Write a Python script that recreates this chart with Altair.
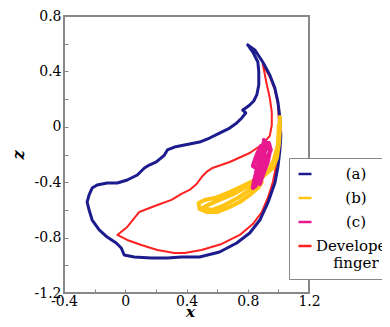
import altair as alt
import pandas as pd

series_names = ["(a)", "(b)", "(c)", "Developed finger"]
series_colors = ["#1c1c8e", "#ffc414", "#e8198f", "#ff2020"]

blue_x = [0.800, 0.833, 0.866, 0.872, 0.872, 0.859, 0.839, 0.813, 0.787, 0.767, 0.787, 0.761,
          0.728, 0.682, 0.616, 0.551, 0.485, 0.387, 0.321, 0.275, 0.256, 0.203, 0.157, 0.125,
          0.079, 0.013, -0.052, -0.118, -0.184, -0.216, -0.236, -0.249, -0.236, -0.216, -0.170,
          -0.118, -0.059, -0.026, -0.007, 0.059, 0.170, 0.275, 0.367, 0.485, 0.616, 0.728,
          0.813, 0.879, 0.931, 0.977, 0.997, 1.010, 1.016, 1.010, 0.997, 0.977, 0.944, 0.898,
          0.846, 0.800]
blue_z = [0.591, 0.540, 0.468, 0.396, 0.302, 0.230, 0.186, 0.157, 0.136, 0.121, 0.100, 0.064,
          0.027, -0.009, -0.045, -0.081, -0.110, -0.131, -0.146, -0.167, -0.204, -0.254, -0.276,
          -0.297, -0.348, -0.384, -0.406, -0.406, -0.420, -0.442, -0.492, -0.543, -0.601, -0.673,
          -0.745, -0.796, -0.839, -0.875, -0.926, -0.940, -0.947, -0.947, -0.940, -0.940, -0.904,
          -0.839, -0.767, -0.673, -0.550, -0.406, -0.290, -0.167, -0.059, 0.064, 0.179, 0.280,
          0.374, 0.468, 0.555, 0.591]

red_x = [0.898, 0.944, 0.977, 0.997, 1.003, 1.003, 0.997, 0.984, 0.964, 0.931, 0.892, 0.833,
         0.748, 0.630, 0.498, 0.387, 0.321, 0.210, 0.105, 0.013, -0.052, 0.013, 0.092, 0.125,
         0.210, 0.302, 0.367, 0.420, 0.466, 0.505, 0.531, 0.570, 0.682, 0.813, 0.898, 0.944,
         0.957, 0.957, 0.944, 0.925, 0.898]
red_z = [0.453, 0.360, 0.266, 0.165, 0.049, -0.059, -0.167, -0.290, -0.399, -0.514, -0.615,
         -0.702, -0.781, -0.846, -0.890, -0.911, -0.911, -0.890, -0.853, -0.817, -0.781, -0.723,
         -0.615, -0.601, -0.565, -0.528, -0.485, -0.456, -0.413, -0.355, -0.326, -0.297, -0.254,
         -0.189, -0.124, -0.066, 0.013, 0.107, 0.208, 0.302, 0.453]

yel_x = [1.010, 1.010, 1.003, 0.990, 0.964, 0.911, 0.846, 0.767, 0.682, 0.584, 0.518, 0.479,
         0.485, 0.531, 0.603, 0.669, 0.748, 0.813, 0.866, 0.892, 0.852, 0.780, 0.695, 0.616,
         0.538, 0.505, 0.564, 0.649, 0.734, 0.813, 0.879, 0.931, 0.970, 0.997, 1.003]
yel_z = [0.071, -0.023, -0.131, -0.225, -0.297, -0.348, -0.384, -0.427, -0.471, -0.514, -0.528,
         -0.550, -0.593, -0.615, -0.615, -0.586, -0.543, -0.492, -0.442, -0.399, -0.406, -0.442,
         -0.492, -0.528, -0.565, -0.586, -0.601, -0.565, -0.514, -0.456, -0.384, -0.326, -0.240,
         -0.131, 0.013]

mag_x = [0.905, 0.931, 0.944, 0.931, 0.911, 0.892, 0.879, 0.866, 0.879, 0.892, 0.898, 0.885,
         0.866, 0.846, 0.833, 0.852, 0.879, 0.905, 0.918, 0.905, 0.892, 0.866, 0.852, 0.839,
         0.833, 0.852, 0.872, 0.898, 0.925, 0.951, 0.938]
mag_z = [-0.095, -0.124, -0.182, -0.254, -0.312, -0.370, -0.413, -0.384, -0.312, -0.240, -0.167,
         -0.139, -0.182, -0.240, -0.283, -0.297, -0.254, -0.211, -0.153, -0.110, -0.167, -0.269,
         -0.341, -0.399, -0.442, -0.427, -0.355, -0.297, -0.225, -0.167, -0.117]

x_labels = [-0.4, 0, 0.4, 0.8, 1.2]
z_labels = [-1.2, -0.8, -0.4, 0, 0.4, 0.8]
x_minor = [-0.4, -0.2, 0, 0.2, 0.4, 0.6, 0.8, 1.0, 1.2]
z_minor = [-1.2, -1.0, -0.8, -0.6, -0.4, -0.2, 0, 0.2, 0.4, 0.6, 0.8]


def frame(xs, zs, name):
    return pd.DataFrame({"x": xs, "z": zs, "i": list(range(len(xs))), "series": name})


df_a = frame(blue_x, blue_z, series_names[0])
df_b = frame(yel_x, yel_z, series_names[1])
df_c = frame(mag_x, mag_z, series_names[2])
df_d = frame(red_x, red_z, series_names[3])

W, H = 245, 277
FONT = "DejaVu Serif"

xscale = alt.Scale(domain=[-0.4, 1.2], nice=False, zero=False)
yscale = alt.Scale(domain=[-1.2, 0.8], nice=False, zero=False)
cscale = alt.Scale(domain=series_names, range=series_colors)

num_expr = "(datum.value < 0 ? '-' : '') + format(abs(datum.value), '')"

legend = alt.Legend(
    title=None, orient="none", legendX=225, legendY=142,
    symbolType="stroke", symbolSize=169, symbolStrokeWidth=2.5,
    labelFont=FONT, labelFontSize=15, labelColor="black",
    labelAlign="center", labelOffset=43, labelLimit=300,
    rowPadding=8, padding=8, strokeColor="#888", fillColor="white",
    labelExpr="datum.label == 'Developed finger' ? ['Developed', 'finger'] : datum.label",
)

x_main = alt.Axis(orient="bottom", values=x_labels, labelExpr=num_expr, ticks=False,
                  domain=False, grid=False, title="x", labelPadding=1,
                  titleY=23, titleX=126, titleBaseline="alphabetic",
                  labelFlush=False, labelFontSize=14,
                  titleFontStyle="italic", titleFontWeight="bold", titleFontSize=15,
                  labelFont=FONT, titleFont=FONT)
z_main = alt.Axis(orient="left", values=z_labels, labelExpr=num_expr, ticks=False,
                  domain=False, grid=False, title="z", labelPadding=3, titlePadding=8,
                  labelFlush=False, labelFontSize=14,
                  titleFontStyle="italic", titleFontWeight="bold", titleFontSize=16,
                  labelFont=FONT, titleFont=FONT)

x_tick = alt.Axis(orient="top", offset=-H, values=x_minor, labels=False, domain=False,
                  grid=False, ticks=True, tickSize=4, tickColor="#888", title=None)
z_tick = alt.Axis(orient="right", offset=-W, values=z_minor, labels=False, domain=False,
                  grid=False, ticks=True, tickSize=4, tickColor="#888", title=None)


def series_layer(df, width, axes):
    xa = x_main if axes else None
    za = z_main if axes else None
    return alt.Chart(df).mark_line(strokeWidth=width, strokeJoin="round", strokeCap="round").encode(
        x=alt.X("x:Q", scale=xscale, axis=xa),
        y=alt.Y("z:Q", scale=yscale, axis=za),
        order="i:Q",
        color=alt.Color("series:N", scale=cscale, legend=legend),
    )


layer_d = series_layer(df_d, 2, True)
layer_a = series_layer(df_a, 3, False)
layer_b = series_layer(df_b, 4, False)
layer_c = series_layer(df_c, 4, False)

ticks = alt.Chart(df_a).mark_line(strokeOpacity=0).encode(
    x=alt.X("x:Q", scale=xscale, axis=x_tick),
    y=alt.Y("z:Q", scale=yscale, axis=z_tick),
    order="i:Q",
)

chart = alt.layer(layer_d, layer_a, layer_b, layer_c, ticks).resolve_axis(
    x="independent", y="independent"
).properties(
    width=W, height=H,
    autosize=alt.AutoSizeParams(type="none"),
    padding={"left": 56, "top": 8, "right": 73, "bottom": 26},
).configure_view(
    stroke="#888", strokeWidth=2
).configure_axis(
    labelColor="black", titleColor="black",
)

chart.save("out.html", embed_options={"renderer": "svg", "actions": False})
